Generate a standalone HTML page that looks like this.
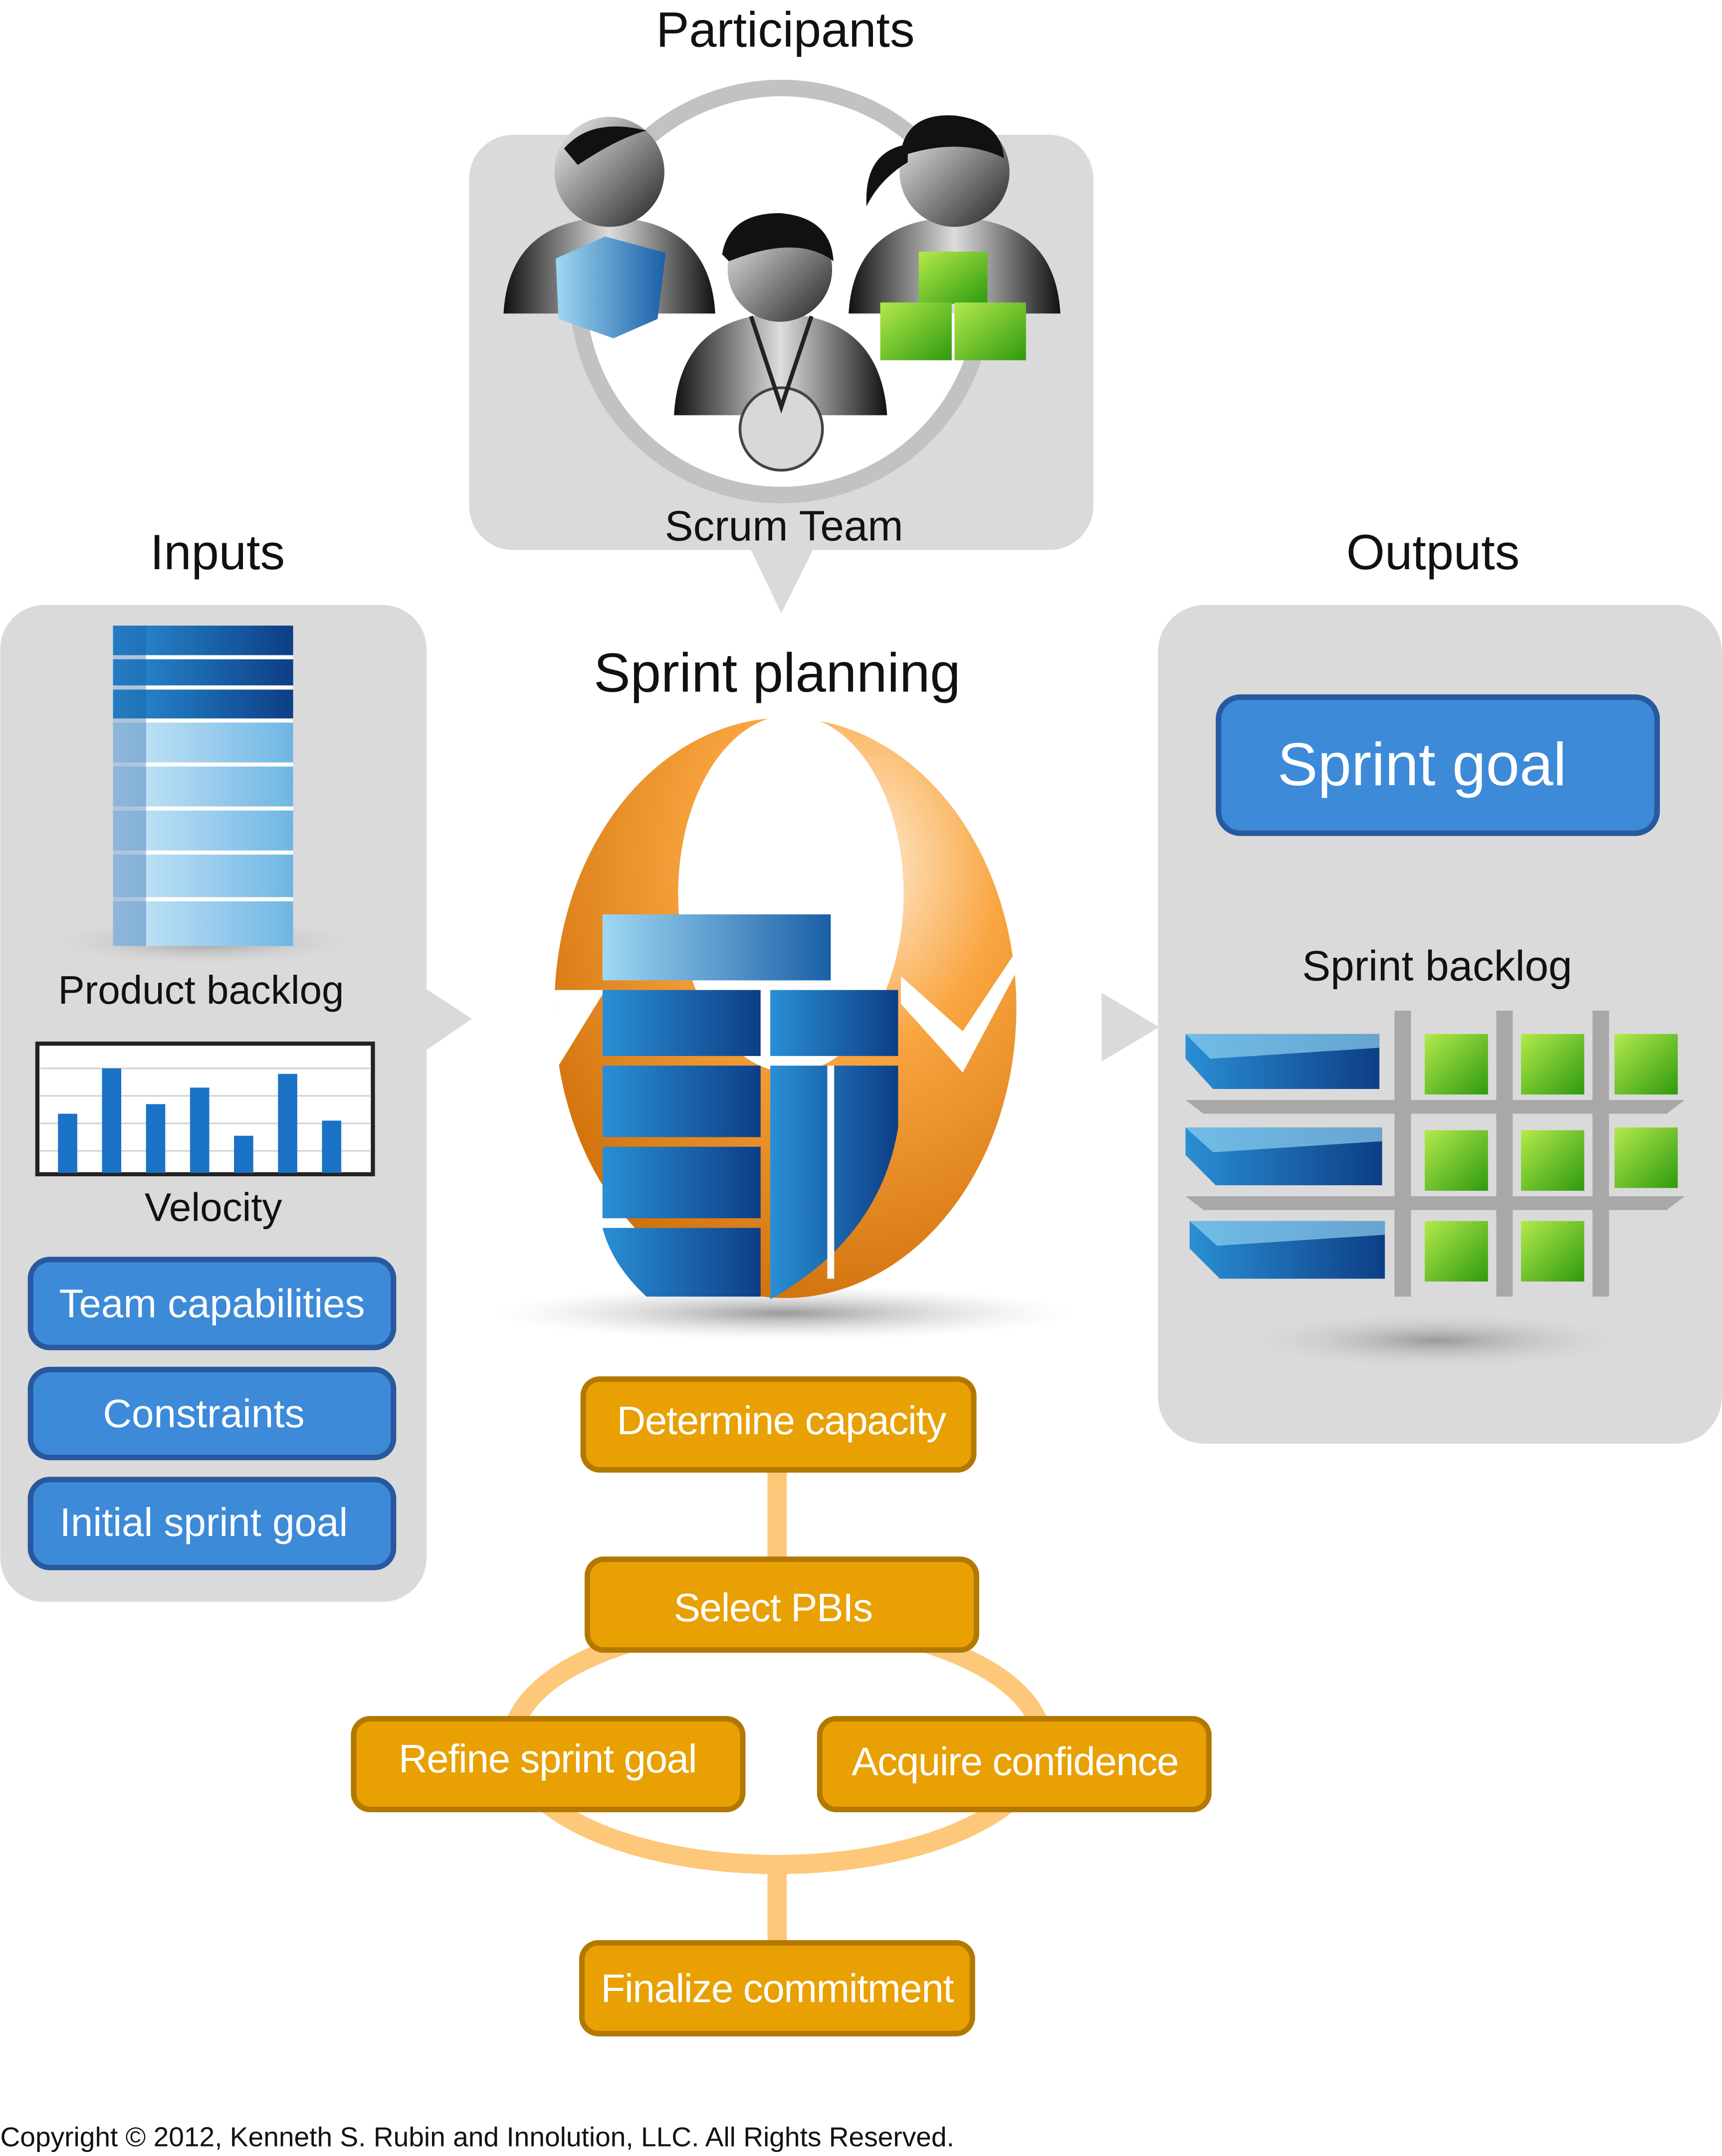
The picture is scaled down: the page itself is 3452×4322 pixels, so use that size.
<!DOCTYPE html>
<html><head><meta charset="utf-8"><style>
html,body{margin:0;padding:0;background:#fff;}
svg{display:block;}
text{font-family:"Liberation Sans",sans-serif;}
</style></head><body>
<svg width="3452" height="4322" viewBox="0 0 1252 1568" xmlns="http://www.w3.org/2000/svg">
<defs>
<linearGradient id="head" x1="0" y1="0" x2="1" y2="1"><stop offset="0" stop-color="#f2f2f2"/><stop offset="1" stop-color="#222"/></linearGradient>
<linearGradient id="body" x1="0" y1="0" x2="1" y2="0"><stop offset="0" stop-color="#111"/><stop offset="0.5" stop-color="#ddd"/><stop offset="1" stop-color="#111"/></linearGradient>
<linearGradient id="blueL" x1="0" y1="0" x2="1" y2="0"><stop offset="0" stop-color="#9fd8f2"/><stop offset="1" stop-color="#1a5fa8"/></linearGradient>
<linearGradient id="blueS" x1="0" y1="0" x2="1" y2="0"><stop offset="0" stop-color="#2a8fd4"/><stop offset="1" stop-color="#0d3e86"/></linearGradient>
<linearGradient id="blueP" x1="0" y1="0" x2="1" y2="0"><stop offset="0" stop-color="#cde9f8"/><stop offset="1" stop-color="#6fb6e4"/></linearGradient>
<radialGradient id="orng" cx="0.65" cy="0.25" r="0.8"><stop offset="0" stop-color="#fff2e0"/><stop offset="0.4" stop-color="#f9a540"/><stop offset="1" stop-color="#d0700a"/></radialGradient>
<linearGradient id="green" x1="0" y1="0" x2="1" y2="1"><stop offset="0" stop-color="#b4ea4a"/><stop offset="1" stop-color="#2e9a10"/></linearGradient>
<radialGradient id="shadow" cx="0.5" cy="0.5" r="0.5"><stop offset="0" stop-color="#999"/><stop offset="1" stop-color="#ddd" stop-opacity="0"/></radialGradient>
</defs>

<text x="571" y="34" font-size="36" text-anchor="middle" fill="#111">Participants</text>
<rect x="341" y="98" width="454" height="302" rx="32" fill="#dadada"/>
<polygon points="545,398 592,398 568,446" fill="#dadada"/>
<circle cx="568" cy="212" r="148" fill="#fff" stroke="#c2c2c2" stroke-width="12"/>
<path d="M366,228 Q370,160 443,158 Q516,160 520,228 Z" fill="url(#body)"/>
<circle cx="443" cy="125" r="40" fill="url(#head)"/>
<path d="M410,108 Q430,85 470,95 Q450,100 420,120 Z" fill="#111"/>
<polygon points="404,188 440,172 484,184 478,232 446,246 406,232" fill="url(#blueL)"/>
<path d="M617,228 Q621,160 694,158 Q767,160 771,228 Z" fill="url(#body)"/>
<circle cx="694" cy="125" r="40" fill="url(#head)"/>
<path d="M655,110 Q660,82 694,84 Q728,88 730,115 Q700,100 660,112 Z" fill="#111"/>
<path d="M660,105 Q628,110 630,150 Q640,130 660,118 Z" fill="#111"/>
<rect x="668" y="183" width="50" height="38" fill="url(#green)"/>
<rect x="640" y="220" width="52" height="42" fill="url(#green)"/>
<rect x="694" y="220" width="52" height="42" fill="url(#green)"/>
<path d="M490,302 Q494,230 567,228 Q640,230 645,302 Z" fill="url(#body)"/>
<circle cx="567" cy="196" r="38" fill="url(#head)"/>
<path d="M525,185 Q530,155 567,155 Q604,158 606,190 Q580,170 530,190 Z" fill="#111"/>
<circle cx="568" cy="312" r="30" fill="#d8d8d8" stroke="#444" stroke-width="2"/>
<path d="M546,230 L568,296 L590,230" fill="none" stroke="#222" stroke-width="3"/>
<text x="570" y="393" font-size="31" text-anchor="middle" fill="#111">Scrum Team</text>

<text x="158" y="414" font-size="36" text-anchor="middle" fill="#111">Inputs</text>
<rect x="0" y="440" width="310" height="725" rx="32" fill="#dadada"/>
<polygon points="308,718 343,741 308,765" fill="#dadada"/>
<ellipse cx="148" cy="685" rx="120" ry="18" fill="url(#shadow)"/>
<g>
<rect x="82" y="455" width="131" height="233" fill="url(#blueP)"/>
<rect x="82" y="455" width="131" height="70" fill="url(#blueS)"/>
<g stroke="#fff" stroke-width="3">
<line x1="82" y1="478" x2="213" y2="478"/><line x1="82" y1="500" x2="213" y2="500"/><line x1="82" y1="524" x2="213" y2="524"/>
<line x1="82" y1="556" x2="213" y2="556"/><line x1="82" y1="588" x2="213" y2="588"/><line x1="82" y1="620" x2="213" y2="620"/><line x1="82" y1="654" x2="213" y2="654"/>
</g>
<rect x="82" y="455" width="24" height="233" fill="#1b5aa0" opacity="0.35"/>
</g>
<text x="146" y="730" font-size="29" text-anchor="middle" fill="#111">Product backlog</text>
<rect x="27" y="759" width="244" height="95" fill="#fff" stroke="#222" stroke-width="3"/>
<g stroke="#ccc" stroke-width="1"><line x1="29" y1="777" x2="269" y2="777"/><line x1="29" y1="797" x2="269" y2="797"/><line x1="29" y1="817" x2="269" y2="817"/><line x1="29" y1="837" x2="269" y2="837"/></g>
<g fill="#1a72c6">
<rect x="42" y="810" width="14" height="43"/><rect x="74" y="777" width="14" height="76"/><rect x="106" y="803" width="14" height="50"/><rect x="138" y="791" width="14" height="62"/><rect x="170" y="826" width="14" height="27"/><rect x="202" y="781" width="14" height="72"/><rect x="234" y="815" width="14" height="38"/>
</g>
<text x="155" y="888" font-size="29" text-anchor="middle" fill="#111">Velocity</text>
<g fill="#3d8ad8" stroke="#28599e" stroke-width="4">
<rect x="22" y="916" width="264" height="64" rx="14"/>
<rect x="22" y="996" width="264" height="64" rx="14"/>
<rect x="22" y="1076" width="264" height="64" rx="14"/>
</g>
<g fill="#fff" font-size="29" text-anchor="middle">
<text x="154" y="958">Team capabilities</text>
<text x="148" y="1038">Constraints</text>
<text x="148" y="1117">Initial sprint goal</text>
</g>

<text x="565" y="503" font-size="40" text-anchor="middle" fill="#111">Sprint planning</text>
<ellipse cx="570" cy="955" rx="210" ry="20" fill="url(#shadow)"/>
<ellipse cx="571" cy="733" rx="168" ry="211" fill="url(#orng)"/>
<ellipse cx="575" cy="650" rx="82" ry="130" fill="#fff"/>
<polygon points="403,720 440,720 403,780" fill="#fff"/>
<polygon points="655,710 700,750 740,690 740,705 700,780 655,730" fill="#fff"/>
<rect x="438" y="665" width="166" height="48" fill="url(#blueL)"/>
<rect x="438" y="720" width="115" height="48" fill="url(#blueS)"/>
<rect x="560" y="720" width="93" height="48" fill="url(#blueS)"/>
<rect x="438" y="775" width="115" height="52" fill="url(#blueS)"/>
<rect x="438" y="834" width="115" height="52" fill="url(#blueS)"/>
<path d="M438,893 L553,893 L553,943 L470,943 Q445,920 438,893 Z" fill="url(#blueS)"/>
<path d="M560,775 L653,775 L653,820 Q640,900 560,945 Z" fill="url(#blueS)"/>
<line x1="604" y1="775" x2="604" y2="930" stroke="#fff" stroke-width="5"/>

<text x="1042" y="414" font-size="36" text-anchor="middle" fill="#111">Outputs</text>
<rect x="842" y="440" width="410" height="610" rx="34" fill="#dadada"/>
<polygon points="801,722 843,747 801,772" fill="#dadada"/>
<rect x="886" y="507" width="319" height="99" rx="16" fill="#3d8ad8" stroke="#28599e" stroke-width="4"/>
<text x="1034" y="571" font-size="44" text-anchor="middle" fill="#fff">Sprint goal</text>
<text x="1045" y="713" font-size="31" text-anchor="middle" fill="#111">Sprint backlog</text>
<ellipse cx="1045" cy="975" rx="150" ry="22" fill="url(#shadow)"/>
<g fill="#a8a8a8">
<polygon points="862,800 1225,800 1212,810 875,810"/>
<polygon points="862,870 1225,870 1212,880 875,880"/>
<rect x="1014" y="735" width="12" height="208"/><rect x="1088" y="735" width="12" height="208"/><rect x="1158" y="735" width="12" height="208"/>
</g>
<g fill="url(#blueS)">
<polygon points="862,752 1003,752 1003,792 882,792 862,770"/>
<polygon points="862,820 1005,820 1005,862 884,862 862,840"/>
<polygon points="865,888 1007,888 1007,930 887,930 865,908"/>
</g>
<g fill="#8fd0f0" opacity="0.7">
<polygon points="862,752 1003,752 1003,762 880,770"/>
<polygon points="862,820 1005,820 1005,830 882,838"/>
<polygon points="865,888 1007,888 1007,898 885,906"/>
</g>
<g fill="url(#green)">
<rect x="1036" y="752" width="46" height="44"/><rect x="1106" y="752" width="46" height="44"/><rect x="1174" y="752" width="46" height="44"/>
<rect x="1036" y="822" width="46" height="44"/><rect x="1106" y="822" width="46" height="44"/><rect x="1174" y="820" width="46" height="44"/>
<rect x="1036" y="888" width="46" height="44"/><rect x="1106" y="888" width="46" height="44"/>
</g>

<g stroke="#fdc87a" stroke-width="14" fill="none">
<line x1="565" y1="1069" x2="565" y2="1134"/>
<ellipse cx="565" cy="1268" rx="193" ry="88"/>
<line x1="565" y1="1356" x2="565" y2="1413"/>
</g>
<g fill="#e8a003" stroke="#b37800" stroke-width="4">
<rect x="424" y="1003" width="284" height="66" rx="12"/>
<rect x="427" y="1134" width="283" height="66" rx="12"/>
<rect x="257" y="1250" width="283" height="66" rx="12"/>
<rect x="596" y="1250" width="283" height="66" rx="12"/>
<rect x="423" y="1413" width="284" height="66" rx="12"/>
</g>
<g fill="#fff" font-size="29" text-anchor="middle" letter-spacing="-0.5">
<text x="568" y="1043">Determine capacity</text>
<text x="562" y="1179">Select PBIs</text>
<text x="398" y="1289">Refine sprint goal</text>
<text x="738" y="1291">Acquire confidence</text>
<text x="565" y="1456">Finalize commitment</text>
</g>

<text x="0" y="1561" font-size="20" fill="#111">Copyright © 2012, Kenneth S. Rubin and Innolution, LLC. All Rights Reserved.</text>
</svg>
</body></html>
